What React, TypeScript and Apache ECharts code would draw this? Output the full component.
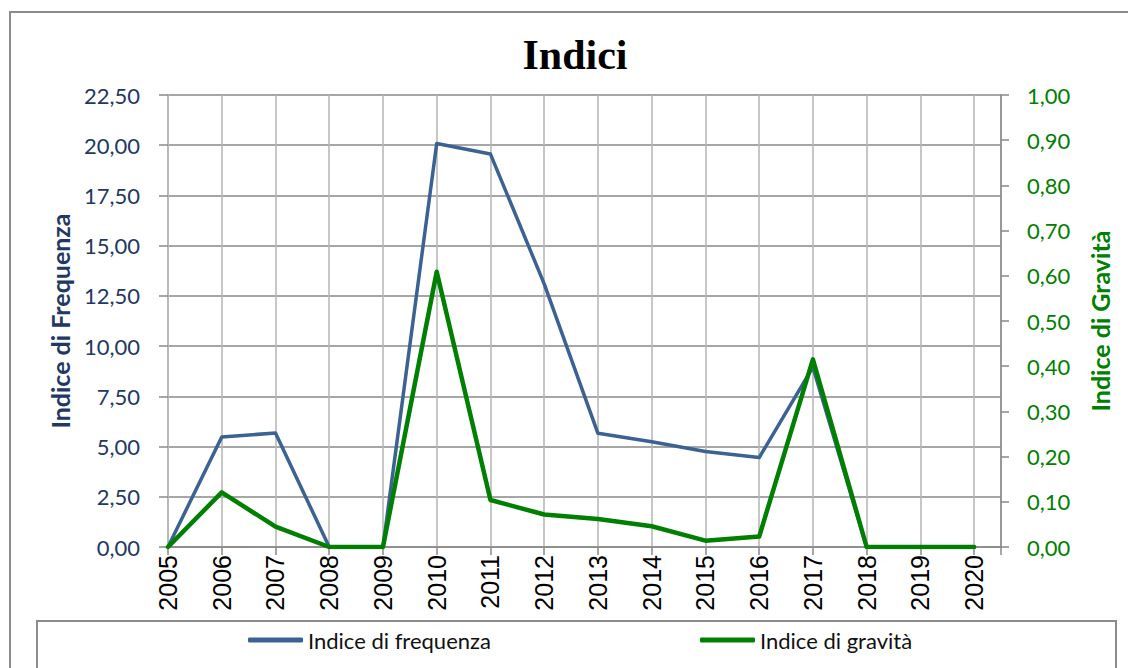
import React, { useEffect, useRef } from "react";
import * as echarts from "echarts";

const years = [2005, 2006, 2007, 2008, 2009, 2010, 2011, 2012, 2013, 2014, 2015, 2016, 2017, 2018, 2019, 2020];
const frequenza = [0, 5.48, 5.67, 0, 0, 20.09, 19.56, 13.1, 5.66, 5.24, 4.75, 4.45, 8.95, 0, 0, 0];
const gravita = [0, 0.121, 0.045, 0, 0, 0.609, 0.104, 0.072, 0.062, 0.046, 0.014, 0.023, 0.415, 0, 0, 0];
const leftTicks = { min: 0, max: 22.5, interval: 2.5 };
const rightTicks = { min: 0, max: 1, interval: 0.1 };

const BLUE = "#3B6293";
const GREEN = "#008000";
const NAVY = "#1F3864";
const FONT = "Lato, 'Noto Sans', sans-serif";

const fmt = (v: number) => v.toFixed(2).replace(".", ",");

export default function App() {
  const ref = useRef<HTMLDivElement>(null);
  useEffect(() => {
    if (!ref.current) return;
    const chart = echarts.init(ref.current, undefined, { renderer: "svg" });
    chart.setOption({
      animation: false,
      backgroundColor: "#ffffff",
      grid: { left: 168, right: 127, top: 95, bottom: 121, containLabel: false },
      xAxis: {
        type: "value",
        min: years[0],
        max: years[years.length - 1] + 0.5,
        interval: 1,
        axisLine: { show: true, lineStyle: { color: "#888888", width: 1.5 } },
        axisTick: { show: true, length: 8, lineStyle: { color: "#888888", width: 1.5 } },
        axisLabel: {
          rotate: 90,
          margin: 8,
          fontSize: 25,
          fontFamily: "'Liberation Sans', Arial, sans-serif",
          color: "#000000",
          formatter: (v: number) => (Number.isInteger(v) ? String(v) : ""),
        },
        splitLine: { show: true, lineStyle: { color: "#b4b4b4", width: 1.5 } },
      },
      yAxis: [
        {
          type: "value",
          position: "left",
          ...leftTicks,
          axisLine: { show: true, lineStyle: { color: "#b4b4b4", width: 1.5 } },
          axisTick: { show: true, length: 9, lineStyle: { color: "#888888", width: 1.5 } },
          axisLabel: { margin: 28, fontSize: 22, fontFamily: FONT, color: NAVY, formatter: fmt },
          splitLine: { show: true, lineStyle: { color: "#888888", width: 1.5 } },
        },
        {
          type: "value",
          position: "right",
          ...rightTicks,
          axisLine: { show: true, lineStyle: { color: "#888888", width: 1.5 } },
          axisTick: { show: true, length: 8, lineStyle: { color: "#888888", width: 1.5 } },
          axisLabel: { margin: 26, fontSize: 22, fontFamily: FONT, color: GREEN, formatter: fmt },
          splitLine: { show: false },
        },
      ],
      legend: [
        {
          data: ["Indice di frequenza"],
          left: 248,
          top: 629,
          padding: 0,
          icon: "roundRect",
          itemWidth: 55,
          itemHeight: 5,
          textStyle: { fontSize: 22, fontFamily: FONT, color: "#111111" },
        },
        {
          data: ["Indice di gravità"],
          left: 700,
          top: 629,
          padding: 0,
          icon: "roundRect",
          itemWidth: 55,
          itemHeight: 5,
          textStyle: { fontSize: 22, fontFamily: FONT, color: "#111111" },
        },
      ],
      series: [
        {
          name: "Indice di frequenza",
          type: "line",
          yAxisIndex: 0,
          symbol: "none",
          data: years.map((y, i) => [y, frequenza[i]]),
          lineStyle: { color: BLUE, width: 3.5, join: "round", cap: "round" },
          itemStyle: { color: BLUE },
        },
        {
          name: "Indice di gravità",
          type: "line",
          yAxisIndex: 1,
          symbol: "none",
          data: years.map((y, i) => [y, gravita[i]]),
          lineStyle: { color: GREEN, width: 4.5, join: "round", cap: "round" },
          itemStyle: { color: GREEN },
        },
      ],
      graphic: [
        {
          type: "rect",
          silent: true,
          z: -1,
          shape: { x: 10, y: 12, width: 1140, height: 700 },
          style: { fill: "none", stroke: "#8c8c8c", lineWidth: 2 },
        },
        {
          type: "rect",
          silent: true,
          z: -1,
          shape: { x: 37, y: 621, width: 1079, height: 80 },
          style: { fill: "none", stroke: "#8c8c8c", lineWidth: 2 },
        },
        {
          type: "text",
          x: 575,
          y: 55,
          style: {
            text: "Indici",
            fontSize: 42,
            fontWeight: "bold",
            fontFamily: "'Liberation Serif', 'DejaVu Serif', serif",
            fill: "#000000",
            align: "center",
            verticalAlign: "middle",
          },
        },
        {
          type: "text",
          x: 60,
          y: 321,
          rotation: Math.PI / 2,
          style: {
            text: "Indice di Frequenza",
            fontSize: 25,
            fontWeight: "bold",
            fontFamily: FONT,
            fill: NAVY,
            align: "center",
            verticalAlign: "middle",
          },
        },
        {
          type: "text",
          x: 1100,
          y: 321,
          rotation: Math.PI / 2,
          style: {
            text: "Indice di Gravità",
            fontSize: 25,
            fontWeight: "bold",
            fontFamily: FONT,
            fill: GREEN,
            align: "center",
            verticalAlign: "middle",
          },
        },
      ],
    });
    return () => chart.dispose();
  }, []);
  return (
    <div
      ref={ref}
      style={{ position: "fixed", left: 0, top: 0, width: 1128, height: 668, background: "#fff" }}
    />
  );
}
